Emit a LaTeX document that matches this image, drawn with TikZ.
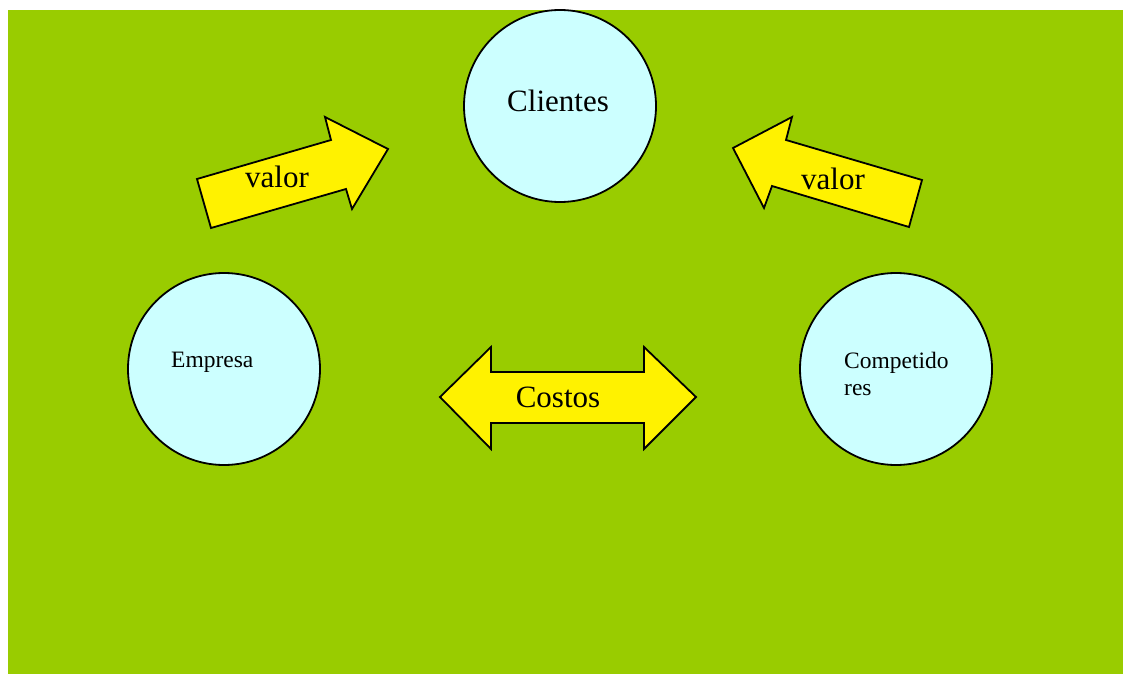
\documentclass[tikz,border=0pt]{standalone}
\usepackage{fontspec}
\setmainfont{Liberation Serif}
\begin{document}
\begin{tikzpicture}[x=1pt,y=-1pt,
  bubble/.style={circle,draw=black,line width=1.8pt,fill=bubblefill,minimum size=192pt,inner sep=0pt},
  blockarrow/.style={draw=black,line width=1.8pt,fill=yellow,line join=miter},
  bigtext/.style={font=\fontsize{31}{35}\selectfont,inner sep=0pt},
  smalltext/.style={font=\fontsize{23.5}{28}\selectfont,inner sep=0pt,align=left}]
\definecolor{bubblefill}{HTML}{CCFFFF}
\definecolor{field}{HTML}{99CC00}
\useasboundingbox (0,0) rectangle (1123,674);
\fill[white] (0,0) rectangle (1123,674);
\fill[field] (8,10) rectangle (1123,674);

% the three parties
\node[bubble] (clientes) at (560,106) {};
\node[bubble] (empresa) at (224,369) {};
\node[bubble] (competidores) at (896,369) {};
\node[bigtext,anchor=base] (tclientes) at (558,112) {Clientes};
\node[smalltext,anchor=base west] (tempresa) at (171,367) {Empresa};
\node[smalltext,anchor=base west] (tcomp1) at (844,368) {Competido};
\node[smalltext,anchor=base west] (tcomp2) at (844,395) {res};

% value arrows towards the customers
\draw[blockarrow] (211,228) -- (197,179) -- (331,140) -- (325,117) -- (388,149)
  -- (352,209) -- (346,189) -- cycle;
\node[bigtext,anchor=base] (valor1) at (277,187) {valor};

\draw[blockarrow] (922,180) -- (909,227) -- (772,186) -- (764,208) -- (733,148)
  -- (792,117) -- (786,140) -- cycle;
\node[bigtext,anchor=base] (valor2) at (833,189) {valor};

% cost comparison between the competitors
\draw[blockarrow] (440,397) -- (491,347) -- (491,372) -- (644,372) -- (644,347)
  -- (696,397) -- (644,449) -- (644,423) -- (491,423) -- (491,449) -- cycle;
\node[bigtext,anchor=base] (costos) at (558,407) {Costos};
\end{tikzpicture}
\end{document}
